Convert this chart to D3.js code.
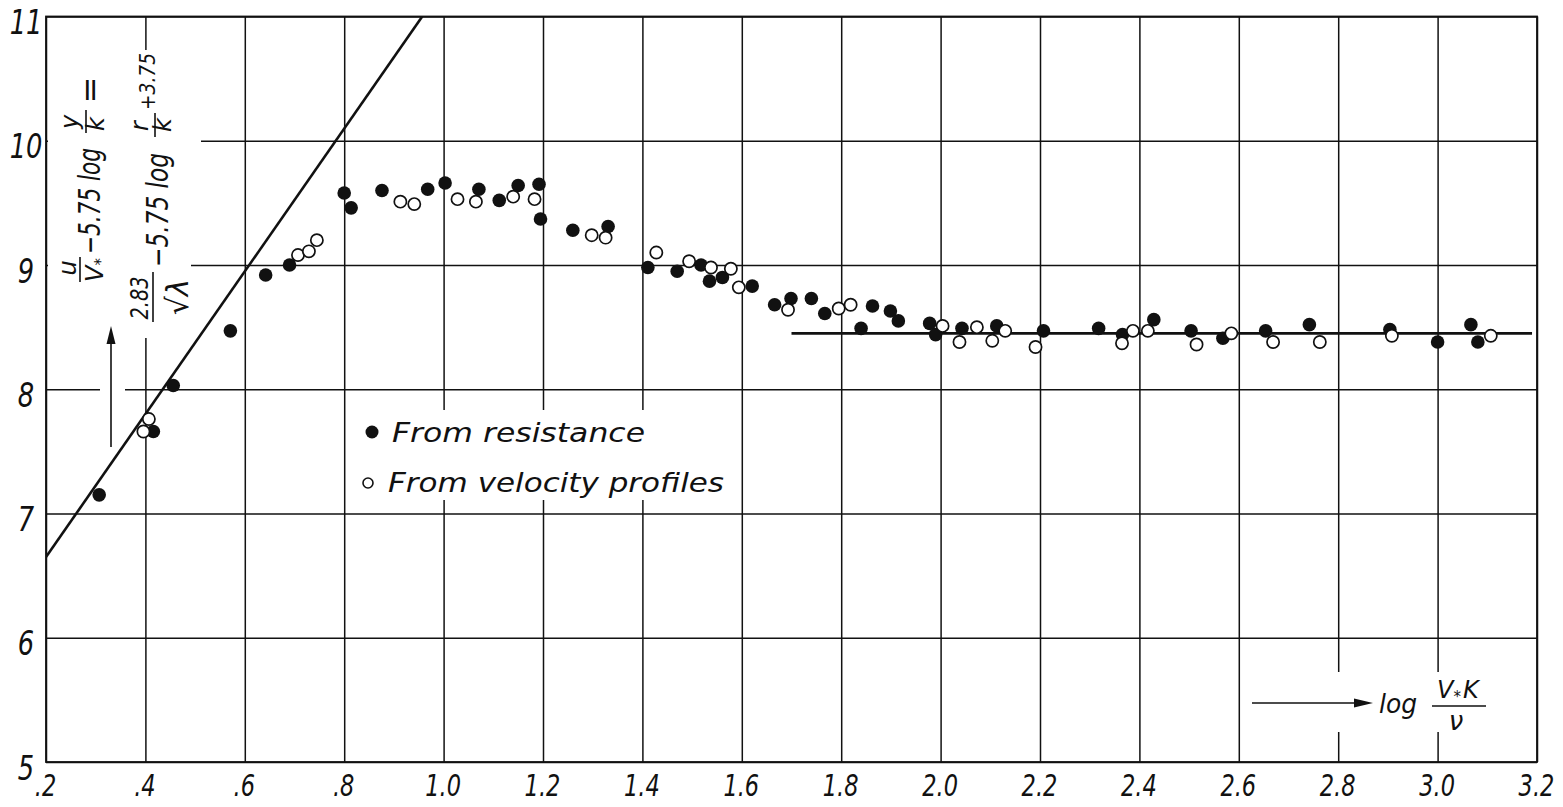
<!DOCTYPE html>
<html><head><meta charset="utf-8">
<script src="https://cdn.jsdelivr.net/npm/d3@7"></script>
<style>
html,body{margin:0;padding:0;background:#fff;}
svg text{font-family:"DejaVu Sans",sans-serif;font-style:italic;fill:#111;}
</style></head>
<body>
<svg id="chart" width="1563" height="807"></svg>
<script>
// ---- data ----
const xTicks = [0.2,0.4,0.6,0.8,1.0,1.2,1.4,1.6,1.8,2.0,2.2,2.4,2.6,2.8,3.0,3.2];
const xTickLabels = [".2",".4",".6",".8","1.0","1.2","1.4","1.6","1.8","2.0","2.2","2.4","2.6","2.8","3.0","3.2"];
const yTicks = [5,6,7,8,9,10,11];
const yTickLabels = ["5","6","7","8","9","10","11"];

// From resistance (filled)
const resistanceX = [0.307,0.416,0.456,0.571,0.642,0.690,0.800,0.814,0.876,0.968,1.003,1.071,1.112,1.150,1.192,1.195,1.260,1.331,1.411,1.470,1.518,1.535,1.561,1.621,1.666,1.699,1.740,1.767,1.840,1.863,1.899,1.915,1.978,1.990,2.043,2.113,2.207,2.318,2.366,2.429,2.504,2.568,2.654,2.742,2.904,3.000,3.067,3.081];
const resistanceY = [7.15,7.66,8.03,8.47,8.92,9.00,9.58,9.46,9.60,9.61,9.66,9.61,9.52,9.64,9.65,9.37,9.28,9.31,8.98,8.95,9.00,8.87,8.90,8.83,8.68,8.73,8.73,8.61,8.49,8.67,8.63,8.55,8.53,8.44,8.49,8.51,8.47,8.49,8.44,8.56,8.47,8.41,8.47,8.52,8.48,8.38,8.52,8.38];

// From velocity profiles (open)
const profilesX = [0.396,0.407,0.707,0.729,0.745,0.913,0.941,1.028,1.065,1.140,1.183,1.298,1.326,1.428,1.494,1.538,1.578,1.594,1.693,1.795,1.819,2.004,2.038,2.073,2.104,2.130,2.191,2.365,2.387,2.417,2.515,2.585,2.669,2.763,2.908,3.107];
const profilesY = [7.66,7.76,9.08,9.11,9.20,9.51,9.49,9.53,9.51,9.55,9.53,9.24,9.22,9.10,9.03,8.98,8.97,8.82,8.64,8.65,8.68,8.51,8.38,8.50,8.39,8.47,8.34,8.37,8.47,8.47,8.36,8.45,8.38,8.38,8.43,8.43];

// smooth-wall line and rough-wall constant line
const smoothLineX = [0.2, 0.957];
const smoothLineY = [6.65, 11.0];
const roughLineX = [1.70, 3.19];
const roughLineY = [8.45, 8.45];

// ---- chart ----
const svg = d3.select("#chart");
const x = d3.scaleLinear().domain([0.2,3.2]).range([46,1537]);
const y = d3.scaleLinear().domain([5,11]).range([762,16.5]);
const ink = "#111";

// grid via axes
const gx = svg.append("g").attr("transform",`translate(0,${y(5)})`)
  .call(d3.axisBottom(x).tickValues(xTicks).tickSize(-(y(5)-y(11)))
        .tickFormat((d,i)=>xTickLabels[i]));
gx.select(".domain").remove();
gx.selectAll(".tick line").attr("stroke",ink).attr("stroke-width",1.5);
gx.selectAll(".tick text").attr("y",null).attr("dy",null)
  .attr("transform","translate(-1,34) scale(0.75,1)")
  .attr("text-anchor","middle").style("font-size","30px").attr("fill",ink);

const gy = svg.append("g").attr("transform",`translate(${x(0.2)},0)`)
  .call(d3.axisLeft(y).tickValues(yTicks).tickSize(-(x(3.2)-x(0.2)))
        .tickFormat((d,i)=>yTickLabels[i]));
gy.select(".domain").remove();
gy.selectAll(".tick line").attr("stroke",ink).attr("stroke-width",1.5);
gy.selectAll(".tick text").attr("x",null).attr("dy",null)
  .attr("transform","translate(-20,17) scale(0.78,1)")
  .attr("text-anchor","middle").style("font-size","33px").attr("fill",ink);

// white masks where the lettering interrupts the grid
const masks = [[48,50,201,200],[48,200,191,338],[100,384,125,395],[358,410,735,500],[1250,672,1495,732]];
svg.append("g").selectAll("rect").data(masks).join("rect")
  .attr("x",d=>d[0]).attr("y",d=>d[1]).attr("width",d=>d[2]-d[0]).attr("height",d=>d[3]-d[1])
  .attr("fill","#fff");

// border
svg.append("rect").attr("x",x(0.2)).attr("y",y(11))
  .attr("width",x(3.2)-x(0.2)).attr("height",y(5)-y(11))
  .attr("fill","none").attr("stroke",ink).attr("stroke-width",1.8);

// clip for lines
svg.append("clipPath").attr("id","plotclip").append("rect")
  .attr("x",x(0.2)).attr("y",y(11)).attr("width",x(3.2)-x(0.2)).attr("height",y(5)-y(11));

const line = d3.line().x(d=>x(d[0])).y(d=>y(d[1]));
svg.append("path").attr("d",line(d3.zip(smoothLineX,smoothLineY)))
  .attr("stroke",ink).attr("stroke-width",2.6).attr("fill","none").attr("clip-path","url(#plotclip)");
svg.append("path").attr("d",line(d3.zip(roughLineX,roughLineY)))
  .attr("stroke",ink).attr("stroke-width",2.6).attr("fill","none");

// points
svg.append("g").selectAll("circle").data(d3.zip(resistanceX,resistanceY)).join("circle")
  .attr("cx",d=>x(d[0])).attr("cy",d=>y(d[1])).attr("r",6.8).attr("fill",ink);
svg.append("g").selectAll("circle").data(d3.zip(profilesX,profilesY)).join("circle")
  .attr("cx",d=>x(d[0])).attr("cy",d=>y(d[1])).attr("r",6.1)
  .attr("fill","#fff").attr("stroke",ink).attr("stroke-width",1.7);

// legend
svg.append("circle").attr("cx",372).attr("cy",432).attr("r",6.5).attr("fill",ink);
svg.append("circle").attr("cx",368).attr("cy",483).attr("r",5).attr("fill","#fff").attr("stroke",ink).attr("stroke-width",1.6);
svg.append("text").attr("x",392).attr("y",442).style("font-size","27px")
  .attr("textLength",253).attr("lengthAdjust","spacingAndGlyphs").text("From resistance");
svg.append("text").attr("x",388).attr("y",492).style("font-size","27px")
  .attr("textLength",336).attr("lengthAdjust","spacingAndGlyphs").text("From velocity profiles");

// x-axis title
svg.append("line").attr("x1",1252).attr("x2",1358).attr("y1",703).attr("y2",703).attr("stroke",ink).attr("stroke-width",1.6);
svg.append("path").attr("d","M1373,703 L1354,698.5 L1354,707.5 Z").attr("fill",ink);
svg.append("text").attr("x",1379).attr("y",713).style("font-size","26px")
  .attr("textLength",38).attr("lengthAdjust","spacingAndGlyphs").text("log");
const num = svg.append("text").attr("x",1437).attr("y",698).style("font-size","24px");
num.append("tspan").text("V");
num.append("tspan").attr("dy",4).style("font-size","15px").text("*");
num.append("tspan").attr("dy",-4).attr("dx",2).text("K");
svg.append("line").attr("x1",1432).attr("x2",1486).attr("y1",706).attr("y2",706).attr("stroke",ink).attr("stroke-width",1.6);
svg.append("text").attr("x",1456).attr("y",730).attr("text-anchor","middle").style("font-size","26px").text("ν");

// y-axis title (rotated)
function rtext(str, sx, sy, size, anchor, len){
  const t = svg.append("text").attr("transform",`translate(${sx},${sy}) rotate(-90)`)
    .attr("text-anchor",anchor).style("font-size",size+"px").text(str);
  if(len) t.attr("textLength",len).attr("lengthAdjust","spacingAndGlyphs");
  return t;
}
function vbar(sx, y1, y2){
  svg.append("line").attr("x1",sx).attr("x2",sx).attr("y1",y1).attr("y2",y2).attr("stroke",ink).attr("stroke-width",1.6);
}
// line 1: u/V* - 5.75 log y/k =
rtext("u",76,268,24,"middle");
vbar(80,257,282);
const vs = svg.append("text").attr("transform","translate(103,270) rotate(-90)").attr("text-anchor","middle").style("font-size","24px");
vs.append("tspan").text("V");
vs.append("tspan").attr("dy",3).style("font-size","15px").text("*");
rtext("−5.75 log",100,254,30,"start",106);
rtext("y",78,122,24,"middle");
vbar(86,110,133);
rtext("k",104,124,24,"middle");
rtext("=",101,90,32,"middle");
// line 2: 2.83/√λ - 5.75 log r/k + 3.75
rtext("2.83",148,298,24,"middle",43);
vbar(153,272,322);
rtext("√λ",188,297,30,"middle",36);
rtext("−5.75 log",168,267,30,"start",114);
rtext("r",148,126,24,"middle");
vbar(155,113,137);
rtext("k",171,125,24,"middle");
rtext("+3.75",155,110,22,"start",57);

// vertical arrow
svg.append("line").attr("x1",111).attr("x2",111).attr("y1",447).attr("y2",340).attr("stroke",ink).attr("stroke-width",1.6);
svg.append("path").attr("d","M111,326 L106.5,344 L115.5,344 Z").attr("fill",ink);
</script>
</body></html>
